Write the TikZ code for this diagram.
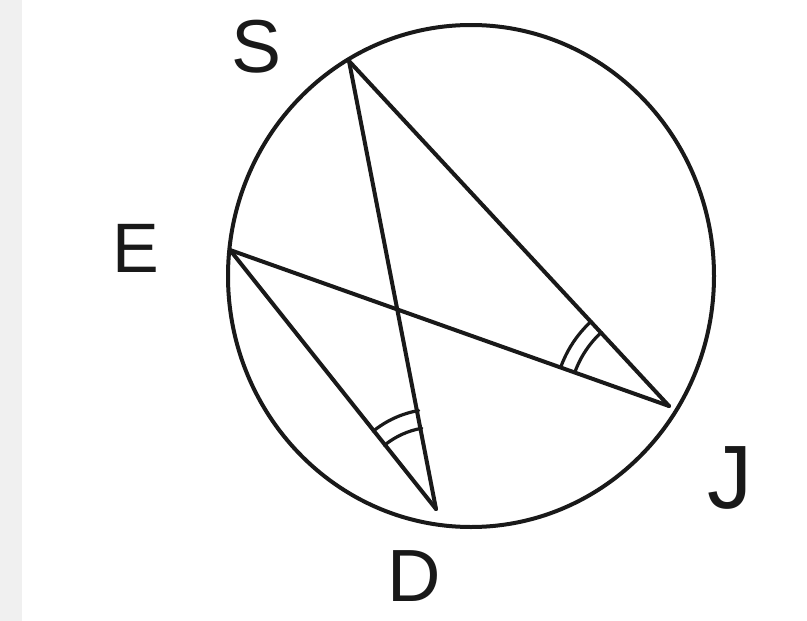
\documentclass[tikz,border=0pt]{standalone}
\usepackage{fontspec}
\setmainfont{Liberation Sans}
\usetikzlibrary{calc}
\begin{document}
\begin{tikzpicture}[x=1pt,y=1pt,
  stroke/.style={line width=4pt, line cap=round, line join=round, color=black!90},
  anglearc/.style={line width=3.2pt, line cap=round, color=black!90},
  lbl/.style={inner sep=0pt, text=black!90}]
  \fill[white] (0,0) rectangle (807,-621);
  \fill[black!6] (0,0) rectangle (22,-621);
  \useasboundingbox (0,0) rectangle (807,-621);
  % circle
  \coordinate (O) at (471,-276);
  \draw[stroke] (O) ellipse [x radius=243, y radius=251];
  % points
  \coordinate (S) at (349,-61);
  \coordinate (E) at (230,-250);
  \coordinate (J) at (669,-406);
  \coordinate (D) at (436,-509);
  % chords
  \draw[stroke] (S) -- (D);
  \draw[stroke] (S) -- (J);
  \draw[stroke] (E) -- (J);
  \draw[stroke] (E) -- (D);
  % equal angle marks at D
  \draw[anglearc] ($(D)+(100:100)$) arc[start angle=100, end angle=129, radius=100];
  \draw[anglearc] ($(D)+(100:82)$) arc[start angle=100, end angle=129, radius=82];
  % equal angle marks at J
  \draw[anglearc] ($(J)+(132.5:115)$) arc[start angle=132.5, end angle=160.5, radius=115];
  \draw[anglearc] ($(J)+(132.5:100)$) arc[start angle=132.5, end angle=160.5, radius=100];
  % labels
  \node[lbl, font=\fontsize{75}{75}\selectfont] (lS) at (257,-47) {S};
  \node[lbl, font=\fontsize{70}{70}\selectfont] (lE) at (136,-248) {E};
  \node[lbl, font=\fontsize{90}{90}\selectfont] (lJ) at (730,-478) {J};
  \node[lbl, font=\fontsize{74}{74}\selectfont] (lD) at (414,-576) {D};
\end{tikzpicture}
\end{document}
